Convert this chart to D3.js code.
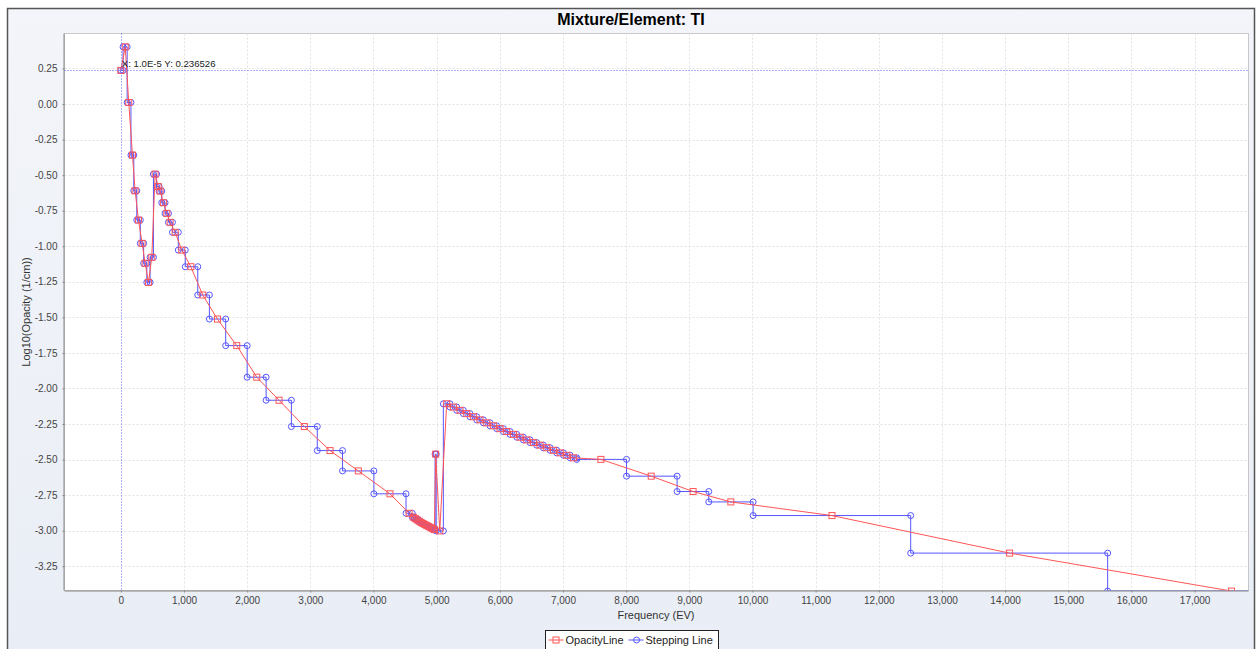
<!DOCTYPE html>
<html>
<head>
<meta charset="utf-8">
<script src="https://cdn.jsdelivr.net/npm/d3@7"></script>
<style>
	body { margin: 0; background: #fff; }
	svg { display: block; font-family: "Liberation Sans", Arial, sans-serif; }
</style>
</head>
<body>
<div id="chart"></div>
<script>
"use strict";

// == DATA ==
// OpacityLine points: frequency (EV) and log10 opacity
var freq = [0.00001, 70, 125, 184, 226, 279, 337, 385, 437, 490,
	543, 590, 622, 674, 728, 780, 859, 965, 1108, 1297,
	1529, 1835, 2152, 2505, 2905, 3312, 3760, 4261, 4564, 4629,
	4660, 4691, 4722, 4753, 4784, 4815, 4846, 4877, 4908, 4939,
	4965, 4984, 5049, 5159, 5265, 5370, 5476, 5581, 5687, 5793,
	5898, 6004, 6109, 6215, 6321, 6426, 6532, 6637, 6743, 6849,
	6954, 7060, 7165, 7600, 8397, 9060, 9657, 11259, 14071, 17584];

var opacity = [0.2365, 0.402, 0.011, -0.359, -0.610, -0.816, -0.980, -1.120, -1.254, -1.078,
	-0.493, -0.580, -0.612, -0.694, -0.769, -0.832, -0.902, -1.027, -1.144, -1.343,
	-1.512, -1.699, -1.921, -2.083, -2.268, -2.437, -2.580, -2.741, -2.878, -2.905,
	-2.915, -2.924, -2.933, -2.942, -2.950, -2.958, -2.965, -2.972, -2.980, -2.987,
	-2.993, -2.462, -3.002, -2.108, -2.131, -2.154, -2.177, -2.199, -2.221, -2.242,
	-2.263, -2.283, -2.303, -2.323, -2.343, -2.362, -2.381, -2.399, -2.417, -2.435,
	-2.453, -2.470, -2.488, -2.499, -2.617, -2.725, -2.798, -2.894, -3.158, -3.425];

// Stepping Line: group edges, one more than the number of points
var stepEdges = [0, 35, 100, 160, 205, 252, 308, 361, 411, 463,
	516, 566, 606, 648, 700, 754, 817, 910, 1020, 1218,
	1402, 1660, 2000, 2300, 2700, 3110, 3510, 4006, 4515, 4614,
	4645, 4676, 4707, 4738, 4769, 4800, 4831, 4862, 4893, 4924,
	4955, 4975, 4993, 5106, 5212, 5317, 5423, 5528, 5634, 5740,
	5845, 5951, 6056, 6162, 6268, 6373, 6479, 6584, 6690, 6796,
	6901, 7007, 7112, 7218, 8006, 8807, 9308, 10010, 12505, 15623,
	19790];

var xTicks = [0, 1000, 2000, 3000, 4000, 5000, 6000, 7000, 8000, 9000,
	10000, 11000, 12000, 13000, 14000, 15000, 16000, 17000];
var yTicks = [0.25, 0, -0.25, -0.5, -0.75, -1, -1.25, -1.5, -1.75, -2,
	-2.25, -2.5, -2.75, -3, -3.25];

var crossX = 0.00001, crossY = 0.236526;
var seriesNames = ["OpacityLine", "Stepping Line"];

// == BOILERPLATE ==
var width = 1257, height = 649;
var plot = { left: 64.5, top: 33.5, right: 1248.5, bottom: 590.5 };
var red = "#ff5555", blue = "#5555ff";

var svg = d3.select("#chart")
	.append("svg")
	.attr("width", width)
	.attr("height", height);

// panel background + border
var defs = svg.append("defs");
var grad = defs.append("linearGradient").attr("id", "bg")
	.attr("x1", 0).attr("y1", 0).attr("x2", 0).attr("y2", 1);
grad.append("stop").attr("offset", "0%").attr("stop-color", "#f3f5fa");
grad.append("stop").attr("offset", "100%").attr("stop-color", "#e9edf5");

svg.append("rect")
	.attr("x", 7.5).attr("y", 8.5)
	.attr("width", 1247).attr("height", 660)
	.attr("fill", "url(#bg)")
	.attr("stroke", "#555").attr("stroke-width", 1.5);

svg.append("text")
	.attr("x", 631).attr("y", 25)
	.attr("text-anchor", "middle")
	.style("font-size", "16px").style("font-weight", "bold")
	.text("Mixture/Element: TI");

// plot area
svg.append("rect")
	.attr("x", plot.left).attr("y", plot.top)
	.attr("width", plot.right - plot.left).attr("height", plot.bottom - plot.top)
	.attr("fill", "#fff")
	.attr("stroke", "#c8c8c8");

defs.append("clipPath").attr("id", "clip")
	.append("rect")
	.attr("x", plot.left).attr("y", plot.top)
	.attr("width", plot.right - plot.left).attr("height", plot.bottom - plot.top);

var x = d3.scaleLinear().domain([-892, 17853]).range([plot.left, plot.right]);
var y = d3.scaleLinear().domain([-3.421, 0.496]).range([plot.bottom, plot.top]);

// gridlines (the crosshair sits on the x = 0 one, so skip it)
var grid = svg.append("g")
	.attr("stroke", "#e3e3e3")
	.attr("stroke-dasharray", "2,2");
grid.selectAll(".gx").data(xTicks.filter(function (d) { return d !== 0; }))
	.enter().append("line")
	.attr("x1", function (d) { return Math.round(x(d)) + 0.5; })
	.attr("x2", function (d) { return Math.round(x(d)) + 0.5; })
	.attr("y1", plot.top).attr("y2", plot.bottom);
grid.selectAll(".gy").data(yTicks).enter().append("line")
	.attr("y1", function (d) { return Math.round(y(d)) + 0.5; })
	.attr("y2", function (d) { return Math.round(y(d)) + 0.5; })
	.attr("x1", plot.left).attr("x2", plot.right);

// axes
var xAxis = svg.append("g")
	.attr("transform", "translate(0," + plot.bottom + ")")
	.call(d3.axisBottom(x).tickValues(xTicks).tickSize(2).tickPadding(4)
		.tickFormat(d3.format(",")));
var yAxis = svg.append("g")
	.attr("transform", "translate(" + plot.left + ",0)")
	.call(d3.axisLeft(y).tickValues(yTicks).tickSize(2).tickPadding(5)
		.tickFormat(function (d) { return d.toFixed(2); }));

[xAxis, yAxis].forEach(function (a) {
	a.select(".domain").attr("stroke", "#888");
	a.selectAll(".tick line").attr("stroke", "#888");
	a.selectAll(".tick text").attr("fill", "#444")
		.style("font-size", "10px")
		.style("font-family", "\"Liberation Sans\", Arial, sans-serif");
});
xAxis.select(".domain").attr("d", "M" + plot.left + ",0.5H" + plot.right);
yAxis.select(".domain").attr("d", "M-0.5," + plot.top + "V" + plot.bottom);

svg.append("text")
	.attr("x", 656).attr("y", 619)
	.attr("text-anchor", "middle")
	.style("font-size", "11px").attr("fill", "#333")
	.text("Frequency (EV)");

svg.append("text")
	.attr("transform", "translate(30," + ((plot.top + plot.bottom) / 2) + ") rotate(-90)")
	.attr("text-anchor", "middle")
	.style("font-size", "11px").attr("fill", "#333")
	.text("Log10(Opacity (1/cm))");

// series
var opacityPts = freq.map(function (f, i) { return [f, opacity[i]]; });
var stepPts = [];
opacity.forEach(function (v, i) {
	stepPts.push([stepEdges[i], v]);
	stepPts.push([stepEdges[i + 1], v]);
});

var line = d3.line()
	.x(function (d) { return x(d[0]); })
	.y(function (d) { return y(d[1]); });

var series = svg.append("g").attr("clip-path", "url(#clip)");

// stepping line first, opacity line drawn over it
series.append("path")
	.datum(stepPts)
	.attr("fill", "none").attr("stroke", blue).attr("stroke-width", 1)
	.attr("d", line);
series.selectAll(".stepDot").data(stepPts).enter().append("circle")
	.attr("cx", function (d) { return x(d[0]); })
	.attr("cy", function (d) { return y(d[1]); })
	.attr("r", 3)
	.attr("fill", "none").attr("stroke", blue);

series.append("path")
	.datum(opacityPts)
	.attr("fill", "none").attr("stroke", red).attr("stroke-width", 1)
	.attr("d", line);
series.selectAll(".opSq").data(opacityPts).enter().append("rect")
	.attr("x", function (d) { return x(d[0]) - 3; })
	.attr("y", function (d) { return y(d[1]) - 3; })
	.attr("width", 6).attr("height", 6)
	.attr("fill", "none").attr("stroke", red);

// crosshair
var cross = svg.append("g")
	.attr("stroke", "#6060ff").attr("stroke-dasharray", "1,2");
cross.append("line")
	.attr("x1", Math.round(x(crossX)) + 0.5).attr("x2", Math.round(x(crossX)) + 0.5)
	.attr("y1", plot.top).attr("y2", plot.bottom);
cross.append("line")
	.attr("y1", Math.round(y(crossY)) + 0.5).attr("y2", Math.round(y(crossY)) + 0.5)
	.attr("x1", plot.left).attr("x2", plot.right);

svg.append("text")
	.attr("x", x(crossX) + 1).attr("y", y(crossY) - 3.5)
	.style("font-size", "9.6px").attr("fill", "#222")
	.text("X: 1.0E-5 Y: " + crossY);

// legend
var lg = svg.append("g").attr("transform", "translate(545.5,630.5)");
lg.append("rect")
	.attr("width", 173).attr("height", 24)
	.attr("fill", "#fff").attr("stroke", "#222");

var legendItems = [
	{ name: seriesNames[0], color: red, x0: 3, shape: "square", tx: 20 },
	{ name: seriesNames[1], color: blue, x0: 83, shape: "circle", tx: 100 }
];
legendItems.forEach(function (d) {
	lg.append("line")
		.attr("x1", d.x0).attr("x2", d.x0 + 15)
		.attr("y1", 9.5).attr("y2", 9.5)
		.attr("stroke", d.color);
	if (d.shape === "square") {
		lg.append("rect")
			.attr("x", d.x0 + 4.5).attr("y", 6.5).attr("width", 6).attr("height", 6)
			.attr("fill", "none").attr("stroke", d.color);
	} else {
		lg.append("circle")
			.attr("cx", d.x0 + 8).attr("cy", 9.5).attr("r", 3)
			.attr("fill", "none").attr("stroke", d.color);
	}
	lg.append("text")
		.attr("x", d.tx).attr("y", 13.5)
		.style("font-size", "11px").attr("fill", "#222")
		.text(d.name);
});
</script>
</body>
</html>
